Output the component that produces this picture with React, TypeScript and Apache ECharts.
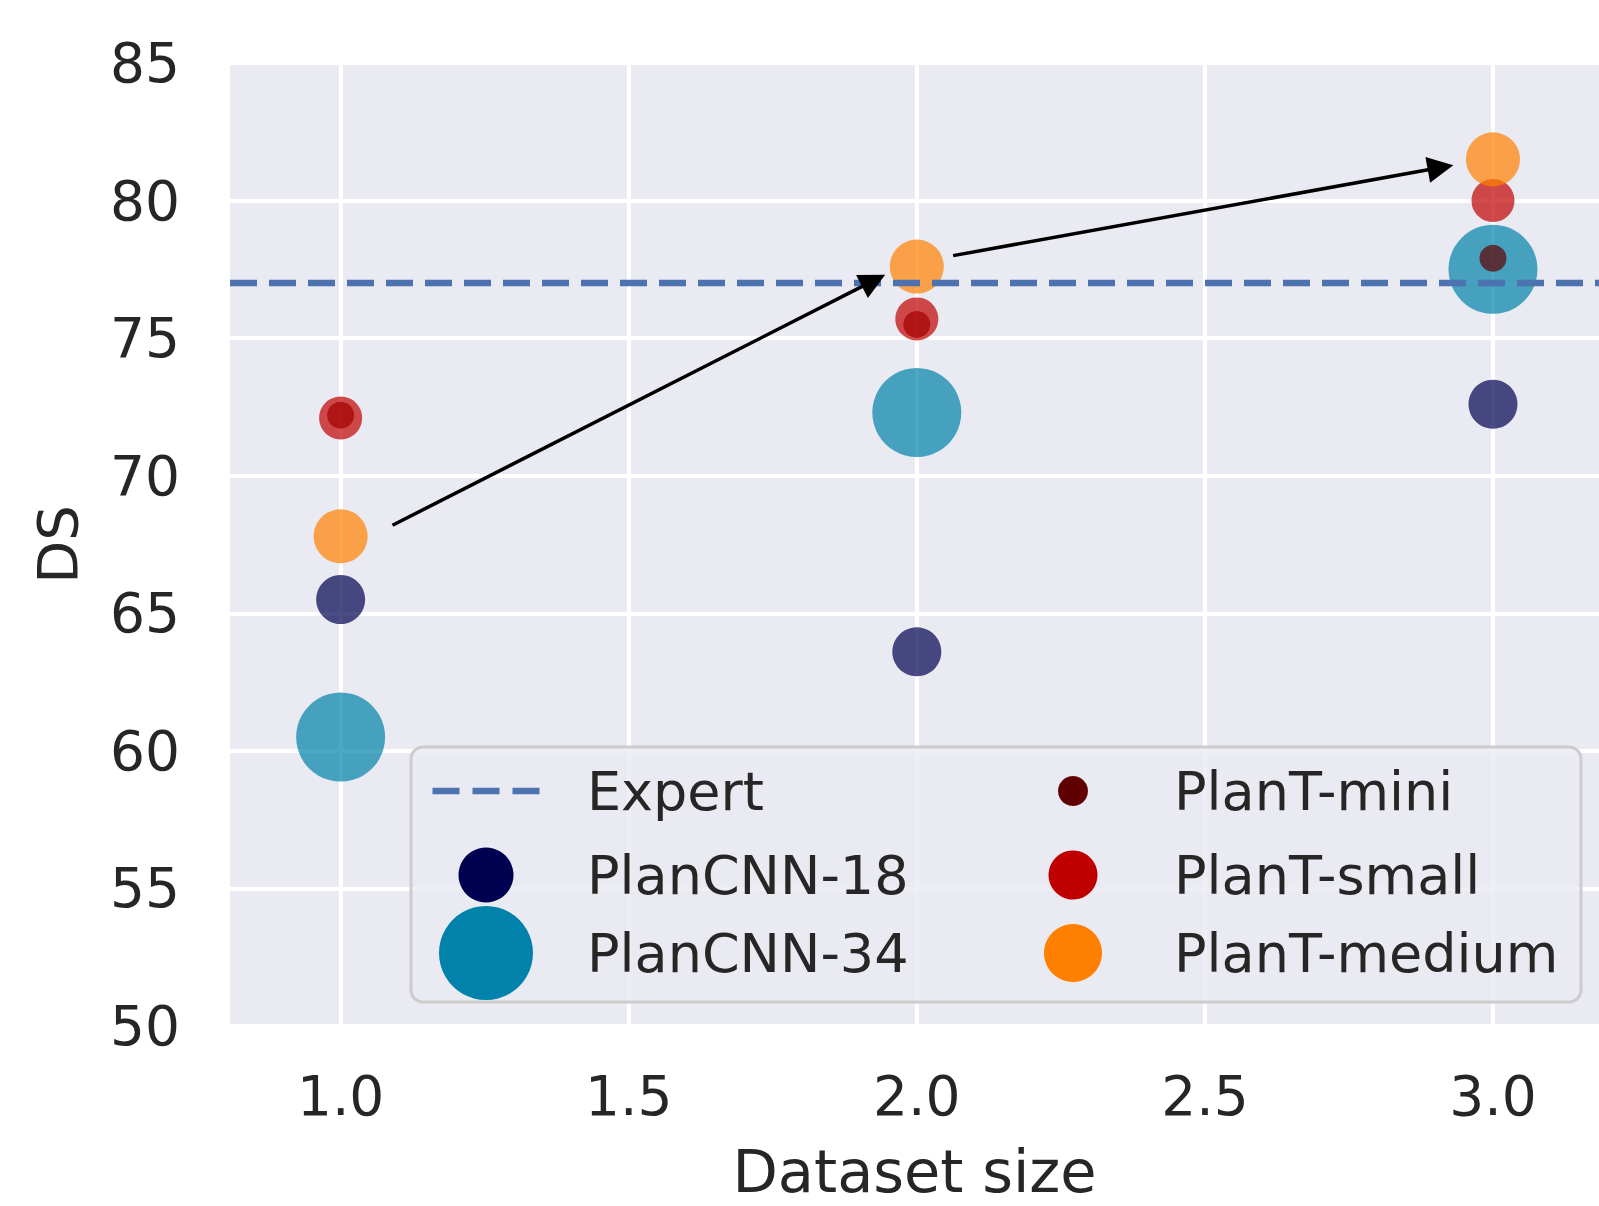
import React, { useEffect, useRef } from "react";
import * as echarts from "echarts";

const datasetSizes = [1.0, 2.0, 3.0];
const expertDS = 77.0;
const planCNN18 = [65.5, 63.6, 72.6];
const planCNN34 = [60.5, 72.3, 77.5];
const planTMini = [72.2, 75.5, 77.9];
const planTSmall = [72.1, 75.7, 80.0];
const planTMedium = [67.8, 77.6, 81.5];
const xTicks = [1.0, 1.5, 2.0, 2.5, 3.0];
const xRange = [0.808, 3.184];
const yTicks = [50, 55, 60, 65, 70, 75, 80, 85];
// annotation arrows: [from, arrowhead centre] in data coordinates
const arrowFrom1 = [1.09, 68.2];
const arrowTo1 = [1.925, 77.09];
const arrowFrom2 = [2.063, 78.0];
const arrowTo2 = [2.909, 81.2];

const FONT = "DejaVu Sans";
const TXT = "#262626";

const scatterDefs = [
  { name: "PlanCNN-18", values: planCNN18, color: "#000050", size: 49, legendSize: 55 },
  { name: "PlanCNN-34", values: planCNN34, color: "#0082aa", size: 89, legendSize: 94 },
  { name: "PlanT-mini", values: planTMini, color: "#600000", size: 27, legendSize: 30 },
  { name: "PlanT-small", values: planTSmall, color: "#c00000", size: 43, legendSize: 49 },
  { name: "PlanT-medium", values: planTMedium, color: "#ff8000", size: 54, legendSize: 58 },
];

export default function App() {
  const ref = useRef<HTMLDivElement>(null);
  useEffect(() => {
    if (!ref.current) return;
    const chart = echarts.init(ref.current, null, { renderer: "svg" });

    const legendFont = 54;
    const mkLegend = (name: string, cx: number, cy: number, w: number, h: number, textX: number, icon: string, color?: string) => {
      const left = cx - w / 2;
      const pad = textX - (left + w + 5);
      const top = cy - Math.max(h, legendFont) / 2;
      const item: any = { name, icon, itemStyle: { opacity: 1 } };
      if (color) item.itemStyle.color = color;
      return {
        left,
        top,
        padding: 0,
        itemGap: 0,
        itemWidth: w,
        itemHeight: h,
        data: [item],
        textStyle: { fontFamily: FONT, fontSize: legendFont, color: TXT, padding: [0, 0, 0, pad] },
        z: 5,
      };
    };

    const col1 = 486, col2 = 1073, text1 = 587, text2 = 1174;
    const rows = [791, 875, 953];
    const dashIcon = "path://M0,0h27v6.5h-27z M40,0h27v6.5h-27z M80,0h27v6.5h-27z";

    const legends = [
      mkLegend("Expert", col1, rows[0], 107, 6.5, text1, dashIcon, "#4c72b0"),
      mkLegend("PlanCNN-18", col1, rows[1], scatterDefs[0].legendSize, scatterDefs[0].legendSize, text1, "circle"),
      mkLegend("PlanCNN-34", col1, rows[2], scatterDefs[1].legendSize, scatterDefs[1].legendSize, text1, "circle"),
      mkLegend("PlanT-mini", col2, rows[0], scatterDefs[2].legendSize, scatterDefs[2].legendSize, text2, "circle"),
      mkLegend("PlanT-small", col2, rows[1], scatterDefs[3].legendSize, scatterDefs[3].legendSize, text2, "circle"),
      mkLegend("PlanT-medium", col2, rows[2], scatterDefs[4].legendSize, scatterDefs[4].legendSize, text2, "circle"),
    ];

    const option: any = {
      animation: false,
      backgroundColor: "#ffffff",
      grid: {
        left: 230,
        right: 0,
        top: 63,
        bottom: 177,
        show: true,
        backgroundColor: "#eaeaf2",
        borderWidth: 0,
      },
      xAxis: {
        type: "value",
        min: xRange[0],
        max: xRange[1],
        name: "Dataset size",
        nameLocation: "middle",
        nameGap: 116,
        nameTextStyle: { fontFamily: FONT, fontSize: 59, color: TXT },
        axisLine: { show: false },
        axisTick: { show: false, customValues: xTicks },
        axisLabel: {
          customValues: xTicks,
          formatter: (v: number) => v.toFixed(1),
          fontFamily: FONT,
          fontSize: 55,
          color: TXT,
          margin: 42,
        },
        splitLine: { show: true, lineStyle: { color: "#ffffff", width: 4 } },
      },
      yAxis: {
        type: "value",
        min: yTicks[0],
        max: yTicks[yTicks.length - 1],
        interval: 5,
        name: "DS",
        nameLocation: "middle",
        nameGap: 145,
        nameTextStyle: { fontFamily: FONT, fontSize: 56, color: TXT },
        axisLine: { show: false },
        axisTick: { show: false },
        axisLabel: {
          formatter: (v: number) => String(v),
          fontFamily: FONT,
          fontSize: 55,
          color: TXT,
          margin: 50,
          padding: [0, 0, 6, 0],
        },
        splitLine: { show: true, lineStyle: { color: "#ffffff", width: 4 } },
      },
      legend: legends,
      graphic: [
        {
          type: "rect",
          z: 1,
          shape: { x: 411, y: 747, width: 1170, height: 255, r: 12 },
          style: { fill: "rgba(234,234,242,0.8)", stroke: "#cccccc", lineWidth: 3 },
        },
      ],
      series: [
        ...scatterDefs.map((d) => ({
          name: d.name,
          type: "scatter",
          symbol: "circle",
          symbolSize: d.size,
          data: datasetSizes.map((x, i) => [x, d.values[i]]),
          itemStyle: { color: d.color, opacity: 0.7 },
          z: 2,
        })),
        {
          name: "Expert",
          type: "line",
          data: [
            [xRange[0], expertDS],
            [xRange[1], expertDS],
          ],
          symbol: "none",
          showSymbol: false,
          lineStyle: { color: "#4c72b0", width: 6.5, type: [27, 12] },
          itemStyle: { color: "#4c72b0" },
          z: 3,
        },
        {
          name: "arrows",
          type: "lines",
          coordinateSystem: "cartesian2d",
          symbol: ["none", "triangle"],
          symbolSize: 26,
          data: [{ coords: [arrowFrom1, arrowTo1] }, { coords: [arrowFrom2, arrowTo2] }],
          lineStyle: { color: "#000000", width: 3.5, opacity: 1 },
          z: 4,
        },
      ],
    };
    chart.setOption(option);
    return () => chart.dispose();
  }, []);
  return (
    <div
      ref={ref}
      style={{ position: "absolute", left: 0, top: 0, width: 1599, height: 1206 }}
    />
  );
}
